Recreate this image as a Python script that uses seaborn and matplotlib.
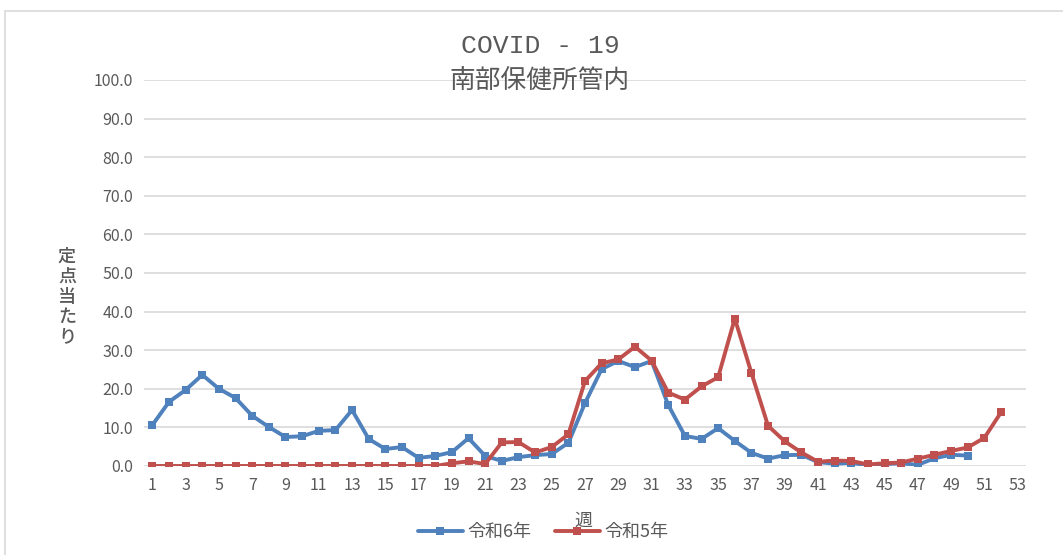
import pandas as pd
import numpy as np
import seaborn as sns
import matplotlib.pyplot as plt
from matplotlib.patches import Rectangle

# Weekly values
weeks_r6 = list(range(1, 51))
r6 = [10.6, 16.6, 19.7, 23.6, 20.0, 17.6, 13.0, 10.1, 7.5, 7.7,
      9.1, 9.3, 14.5, 7.0, 4.4, 4.9, 2.1, 2.6, 3.6, 7.2,
      2.6, 1.3, 2.3, 2.8, 3.1, 6.0, 16.3, 25.1, 27.2, 25.6,
      27.2, 15.8, 7.8, 7.0, 9.8, 6.5, 3.4, 1.9, 2.8, 2.9,
      1.0, 0.6, 0.8, 0.2, 0.5, 0.7, 0.3, 2.0, 2.9, 2.7]

weeks_r5 = list(range(1, 53))
r5 = [0.0, 0.0, 0.0, 0.0, 0.0, 0.0, 0.0, 0.0, 0.0, 0.0,
      0.0, 0.0, 0.0, 0.0, 0.0, 0.0, 0.0, 0.0, 0.7, 1.2,
      0.5, 6.1, 6.2, 3.5, 4.9, 8.2, 22.0, 26.6, 27.6, 30.9,
      27.3, 19.0, 17.2, 20.6, 23.0, 38.2, 24.1, 10.4, 6.4, 3.5,
      1.1, 1.4, 1.3, 0.4, 0.7, 0.9, 1.9, 2.9, 3.9, 4.8,
      7.3, 13.9]

series_names = ['令和6年', '令和5年']
series_colors = ['#4F81BD', '#C0504D']
xticks = list(range(1, 54, 2))
yticks = np.arange(0, 101, 10)
ylabel = '定点当たり'

df = pd.concat([
    pd.DataFrame({'週': weeks_r6, '値': r6, '年': series_names[0]}),
    pd.DataFrame({'週': weeks_r5, '値': r5, '年': series_names[1]}),
])

sns.set_theme(style='white')
plt.rcParams['font.family'] = ['Noto Sans CJK JP', 'DejaVu Sans']
grey = '#595959'

fig = plt.figure(figsize=(10.63, 5.55), dpi=100)
ax = fig.add_axes([0.1355, 0.1604, 0.9652 - 0.1355, 0.856 - 0.1604])

sns.lineplot(data=df, x='週', y='値', hue='年', hue_order=series_names,
             palette=series_colors, marker='s', markersize=5.5,
             markeredgewidth=0, linewidth=2.8, ax=ax, legend=False)

ax.set_xlim(0.5, 53.5)
ax.set_ylim(0, 100)
ax.set_xticks(xticks)
ax.set_xticklabels([str(x) for x in xticks])
ax.set_yticks(yticks)
ax.set_yticklabels([f'{v:.1f}' for v in yticks])
ax.tick_params(axis='both', labelsize=11.5, colors=grey, length=0, pad=8)
ax.yaxis.grid(True, color='#d9d9d9', linewidth=1.2)
ax.xaxis.grid(False)
for s in ax.spines.values():
    s.set_visible(False)
ax.set_xlabel('')
ax.set_ylabel('')

# titles
fig.text(0.508, 0.917, 'COVID - 19', ha='center', va='center',
         fontsize=19, color=grey, family='Liberation Mono')
fig.text(0.508, 0.852, '南部保健所管内', ha='center', va='center',
         fontsize=18.5, color=grey)

# y axis title, one character per row
for i, ch in enumerate(ylabel):
    fig.text(0.063, 1 - (257 + i * 20) / 555, ch, ha='center', va='center',
             fontsize=13, color=grey, fontweight='medium')
fig.text(0.549, 0.061, '週', ha='center', va='center', fontsize=13,
         color=grey)

# legend
handles = [plt.Line2D([], [], color=c, linewidth=2.8, marker='s',
                      markersize=5.5, markeredgewidth=0) for c in series_colors]
fig.legend(handles, series_names, loc='center', bbox_to_anchor=(0.511, 0.041),
           ncol=2, frameon=False, fontsize=13, handlelength=2.5,
           columnspacing=1.3, handletextpad=0.25, labelcolor=grey)

# chart border
fig.patches.append(Rectangle((0.005, -0.01), 1.2, 0.99, transform=fig.transFigure,
                             fill=False, edgecolor='#d9d9d9', linewidth=1.2))

fig.savefig('out.png', dpi=100)
